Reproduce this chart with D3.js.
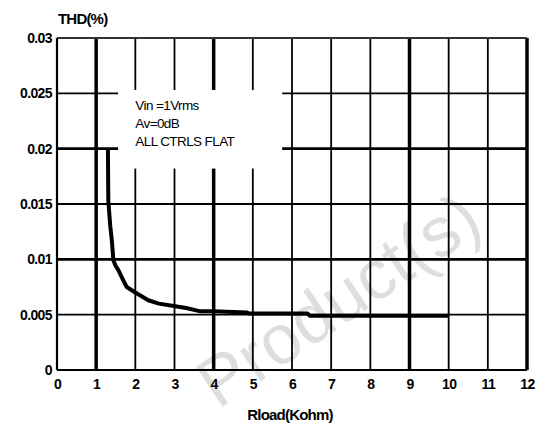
<!DOCTYPE html>
<html lang="en">
<head>
<meta charset="UTF-8">
<title>THD vs Rload</title>
<style>
  body { margin: 0; background: #fff; }
  svg { display: block; }
  .tick text { font-family: "Liberation Sans", Arial, sans-serif; font-weight: bold; font-size: 14px; fill: #000; letter-spacing: -0.6px; }
  .lbl { font-family: "Liberation Sans", Arial, sans-serif; font-weight: bold; fill: #000; letter-spacing: -0.8px; }
  .note { font-family: "Liberation Sans", Arial, sans-serif; font-size: 13.5px; fill: #000; letter-spacing: -0.6px; }
</style>
</head>
<body>
<svg id="chart" width="538" height="430"></svg>
<script src="https://d3js.org/d3.v7.min.js"></script>
<script>
// data
const rload = [1.3, 1.31, 1.36, 1.4, 1.44, 1.5, 1.57, 1.68, 1.78, 2.0, 2.33, 2.6, 2.94, 3.3, 3.66, 4.0, 4.85, 4.9, 6.0, 6.4, 6.45, 10];
const thd   = [0.02, 0.0153, 0.013, 0.0117, 0.0099, 0.0094, 0.009, 0.0082, 0.0075, 0.007, 0.0063, 0.006, 0.0058, 0.0056, 0.0053, 0.0053, 0.0052, 0.0051, 0.0051, 0.0051, 0.0049, 0.0049];
const xTicks = [0, 1, 2, 3, 4, 5, 6, 7, 8, 9, 10, 11, 12];
const yTicks = [0, 0.005, 0.01, 0.015, 0.02, 0.025, 0.03];
const yTickLabels = ["0", "0.005", "0.01", "0.015", "0.02", "0.025", "0.03"];
const thickX = [1, 4, 9];
const thickY = [0.01, 0.02];
const noteLines = ["Vin =1Vrms", "Av=0dB", "ALL CTRLS FLAT"];

const margin = { top: 38, right: 11, bottom: 60, left: 57 };
const svg = d3.select("#chart");
const W = +svg.attr("width"), H = +svg.attr("height");
const iw = W - margin.left - margin.right, ih = H - margin.top - margin.bottom;

const x = d3.scaleLinear().domain([0, 12]).range([0, iw]);
const y = d3.scaleLinear().domain([0, 0.03]).range([ih, 0]);

// faint watermark, behind everything
svg.append("text")
  .attr("transform", "translate(218,410) rotate(-34)")
  .attr("font-family", "Liberation Sans, Arial, sans-serif")
  .attr("font-size", 70)
  .attr("fill", "#000")
  .attr("fill-opacity", 0.13)
  .text("Product(s)");

const g = svg.append("g").attr("transform", `translate(${margin.left},${margin.top})`);

// grid
const grid = g.append("g");
grid.selectAll("line.v").data(xTicks.slice(1)).enter().append("line")
  .attr("x1", d => x(d)).attr("x2", d => x(d))
  .attr("y1", 0).attr("y2", ih)
  .attr("stroke", "#000")
  .attr("stroke-width", d => (thickX.includes(d) || d === 12) ? 3.5 : 1.8);
grid.selectAll("line.h").data(yTicks.slice(1)).enter().append("line")
  .attr("x1", 0).attr("x2", iw)
  .attr("y1", d => y(d)).attr("y2", d => y(d))
  .attr("stroke", d => d === 0.03 ? "#333" : "#000")
  .attr("stroke-width", d => thickY.includes(d) ? 2.8 : 1.8);

// left and bottom axis lines
g.append("line").attr("x1", 0).attr("x2", 0).attr("y1", 0).attr("y2", ih)
  .attr("stroke", "#000").attr("stroke-width", 2.2);
g.append("line").attr("x1", 0).attr("x2", iw).attr("y1", ih).attr("y2", ih)
  .attr("stroke", "#000").attr("stroke-width", 2.2);

// note box covering the grid
const bx = x(1.56), by = y(0.0253);
g.append("rect").attr("x", bx).attr("y", by)
  .attr("width", x(5.75) - bx).attr("height", y(0.0182) - by)
  .attr("fill", "#fff");
g.append("g").selectAll("text").data(noteLines).enter().append("text")
  .attr("class", "note")
  .attr("x", x(2.0))
  .attr("y", (d, i) => y(0.0235) + i * 18)
  .text(d => d);

// axes (labels only)
const xAxis = g.append("g").attr("transform", `translate(0,${ih})`)
  .call(d3.axisBottom(x).tickValues(xTicks).tickSize(0).tickPadding(9).tickFormat(d3.format("d")));
xAxis.select(".domain").remove();

const yAxis = g.append("g")
  .call(d3.axisLeft(y).tickValues(yTicks).tickSize(0).tickPadding(5)
    .tickFormat((d, i) => yTickLabels[i]));
yAxis.select(".domain").remove();

// curve
const line = d3.line().x((d, i) => x(rload[i])).y(d => y(d));
g.append("path").datum(thd)
  .attr("d", line)
  .attr("fill", "none")
  .attr("stroke", "#000")
  .attr("stroke-width", 4)
  .attr("stroke-linejoin", "round");

// axis titles
svg.append("text").attr("class", "lbl").attr("font-size", 15)
  .attr("x", margin.left + 1).attr("y", 24).text("THD(%)");
svg.append("text").attr("class", "lbl").attr("font-size", 15)
  .attr("x", 290).attr("y", 420).attr("text-anchor", "middle").text("Rload(Kohm)");
</script>
</body>
</html>
